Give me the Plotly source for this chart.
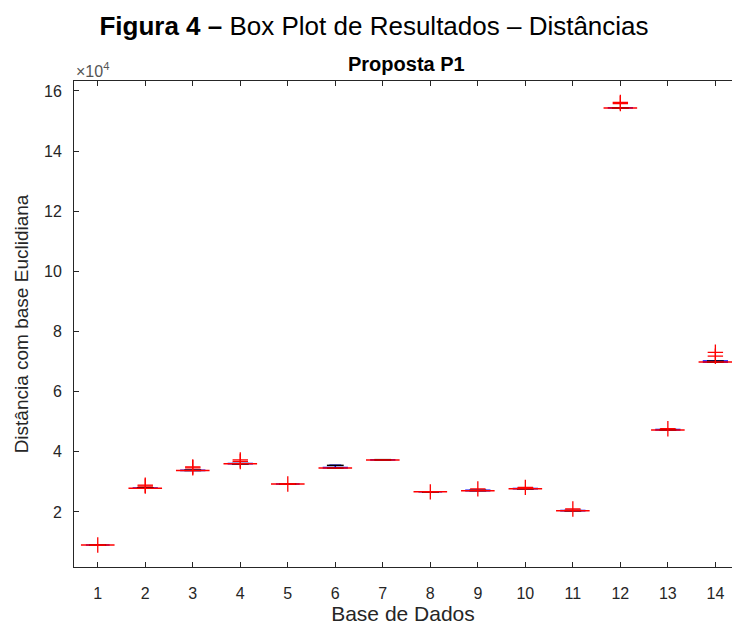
import plotly.graph_objects as go

# Data (values in absolute units; axis labels shown ×10^4)
groups = list(range(1, 15))
q1 = [9000, 27900, 33800, 36000, 29300, 34600, 37300, 26700, 27100, 27700, 20400, 154300, 47300, 69800]
median = [9000, 27900, 33800, 36000, 29300, 34650, 37300, 26700, 27100, 27700, 20400, 154300, 47300, 69900]
q3 = [9000, 28000, 33900, 36100, 29300, 34800, 37400, 26700, 27200, 27800, 20500, 154400, 47400, 70200]
lower_fence = [9000, 27900, 33800, 36000, 29300, 34600, 37300, 26700, 27100, 27700, 20400, 154300, 47300, 69800]
upper_fence = [9000, 28000, 33900, 36100, 29300, 35500, 37400, 26700, 27200, 27800, 20500, 154400, 47400, 70200]
outlier_x = [1, 2, 2, 3, 3, 4, 4, 5, 8, 9, 10, 11, 12, 12, 13, 14, 14]
outlier_y = [9000, 28600, 28900, 34700, 35000, 36800, 37300, 29300, 26700, 27700, 28200, 21000,
             155800, 156200, 47700, 71800, 73100]
ytick_vals = [20000, 40000, 60000, 80000, 100000, 120000, 140000, 160000]
ytick_text = ["2", "4", "6", "8", "10", "12", "14", "16"]

AX = "#262626"
FONT = "Liberation Sans, Arial, sans-serif"

fig = go.Figure()

# whisker caps (black), drawn under boxes
fig.add_trace(go.Scatter(
    x=groups + groups, y=upper_fence + lower_fence, mode="markers",
    marker=dict(symbol="line-ew", size=12, line=dict(color="black", width=1.5)),
    hoverinfo="skip", showlegend=False))

fig.add_trace(go.Box(
    x=groups, q1=q1, median=median, q3=q3,
    lowerfence=lower_fence, upperfence=upper_fence,
    width=0.5, line=dict(color="blue", width=1.5),
    fillcolor="rgba(0,0,0,0)", boxpoints=False, showlegend=False))

# red medians
fig.add_trace(go.Scatter(
    x=groups, y=median, mode="markers",
    marker=dict(symbol="line-ew", size=24, line=dict(color="red", width=1.5)),
    hoverinfo="skip", showlegend=False))

# outliers
fig.add_trace(go.Scatter(
    x=outlier_x, y=outlier_y, mode="markers",
    marker=dict(symbol="cross-thin", size=11, line=dict(color="red", width=1.3)),
    showlegend=False))

H = 625
t, b = 81, 58
ph = H - t - b
pw = 732 - 74

fig.update_layout(
    width=732, height=625,
    margin=dict(l=74, r=0, t=t, b=b),
    paper_bgcolor="white", plot_bgcolor="white",
    font=dict(family=FONT, color=AX),
    title=dict(text="<b>Figura 4 –</b> Box Plot de Resultados – Distâncias",
               x=(374 - 74) / pw, xanchor="center", xref="paper", y=1 - 26 / H, yanchor="middle",
               font=dict(size=26, color="black", family=FONT)),
    xaxis=dict(range=[0.5, 14.35], tickmode="array", tickvals=groups,
               ticktext=[str(g) for g in groups], automargin=False,
               ticks="inside", ticklen=5, tickcolor=AX, showline=True, linecolor=AX,
               linewidth=1, mirror="ticks", showgrid=False, zeroline=False,
               tickfont=dict(size=16, color=AX), ticklabelstandoff=12,
               title=dict(text="Base de Dados", font=dict(size=21, color=AX), standoff=6)),
    yaxis=dict(range=[1710, 163300], tickmode="array", tickvals=ytick_vals, ticktext=ytick_text,
               ticks="inside", ticklen=5, tickcolor=AX, showline=True, linecolor=AX,
               linewidth=1, mirror=False, showgrid=False, zeroline=False, automargin=False,
               tickfont=dict(size=16, color=AX), ticklabelstandoff=8,
               title=dict(text="Distância com base Euclidiana", font=dict(size=19, color=AX), standoff=10)),
    annotations=[
        dict(text="<b>Proposta P1</b>", xref="paper", yref="paper", x=(406 - 74) / pw,
             y=1 + (81 - 64) / ph, xanchor="center", yanchor="middle", showarrow=False,
             font=dict(size=20, color="black", family=FONT)),
        dict(text="×10<sup>4</sup>", xref="paper", yref="paper", x=0, y=1 + (81 - 70) / ph,
             xanchor="left", yanchor="middle", showarrow=False,
             font=dict(size=16, color="#555555", family=FONT)),
    ],
)

fig.write_html("out.html", config={"displayModeBar": False},
               post_script="document.body.style.margin='0';document.body.style.overflow='hidden';")
